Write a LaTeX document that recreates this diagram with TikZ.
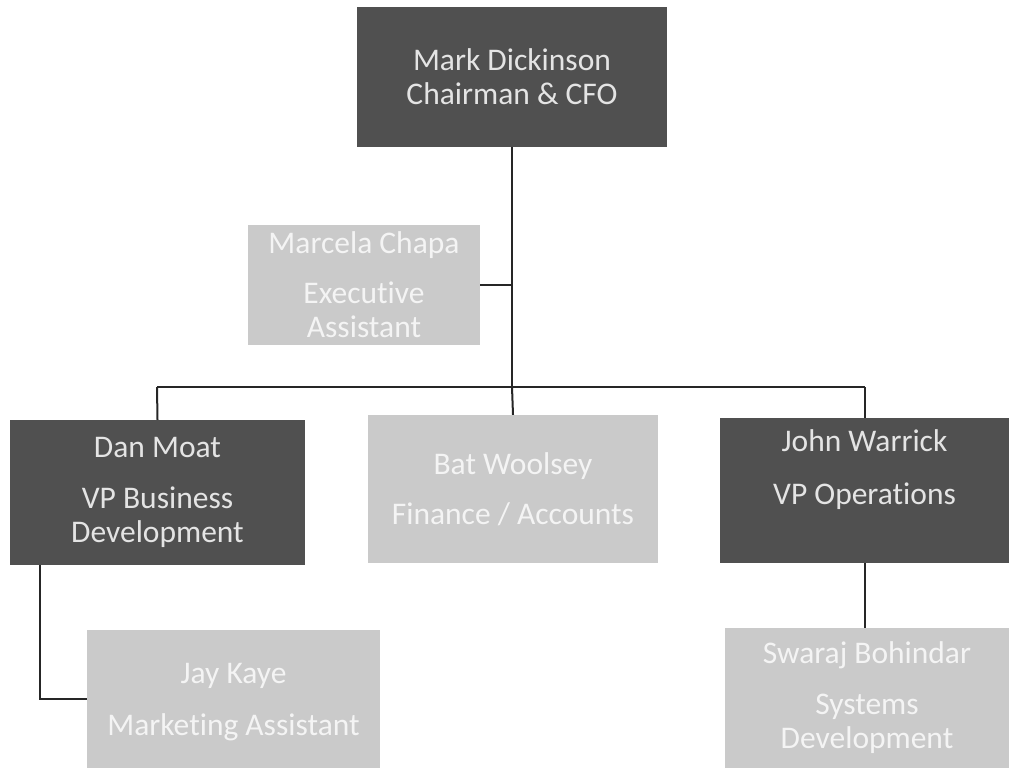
\documentclass[tikz,border=0pt]{standalone}
\usepackage{fontspec}
\setmainfont[Ligatures=NoCommon]{Carlito}
\usepackage{tikz}

\definecolor{boxdark}{RGB}{80,80,80}
\definecolor{boxlight}{RGB}{202,202,202}
\definecolor{txtdark}{RGB}{228,228,228}
\definecolor{txtlight}{RGB}{244,244,244}

\begin{document}
\begin{tikzpicture}[x=1pt, y=-1pt,
	darkbox/.style = {fill = boxdark, text = txtdark, align = center, inner sep = 0pt,
		font = \fontsize{31.5}{34}\selectfont},
	lightbox/.style = {fill = boxlight, text = txtlight, align = center, inner sep = 0pt,
		font = \fontsize{31.5}{34}\selectfont},
	link/.style = {line width = 2pt, draw = black!85}]

\useasboundingbox (0,0) rectangle (1009,771);

\node[darkbox, minimum width = 310, minimum height = 140] (mark) at (512,77)
	{Mark Dickinson\\Chairman \& CFO};
\node[lightbox, minimum width = 232, minimum height = 120] (marcela) at (364,285)
	{Marcela Chapa\\[16pt]Executive\\Assistant};

\node[darkbox, minimum width = 295, minimum height = 145] (dan) at (157.5,492.5)
	{Dan Moat\\[17pt]VP Business\\Development};
\node[lightbox, minimum width = 290, minimum height = 148] (bat) at (513,489)
	{Bat Woolsey\\[16pt]Finance / Accounts};
\node[darkbox, minimum width = 289, minimum height = 145] (john) at (864.5,490.5)
	{John Warrick\\[19pt]VP Operations\\[13pt]\mbox{}};

\node[lightbox, minimum width = 293, minimum height = 138] (jay) at (233.5,699)
	{\mbox{}\\[-8pt]Jay Kaye\\[18pt]Marketing Assistant};
\node[lightbox, minimum width = 284, minimum height = 140] (swaraj) at (867,698)
	{Swaraj Bohindar\\[17pt]Systems\\Development};

% tree lines
\coordinate (busmid) at (512,387);
\coordinate (busleft) at (157,387);
\coordinate (busright) at (865,387);

\draw[link] (mark.south) -- (busmid);
\draw[link] (marcela.east) -- (marcela.east -| busmid);
\draw[link] (busleft) -- (busright);
\draw[link] (busleft) -- (dan.north);
\draw[link] (busmid) -- (bat.north);
\draw[link] (busright) -- (busright |- john.north);

\draw[link] (dan.south west) ++(30,0) |- (jay.west);
\draw[link] (john.south) -- (john.south |- swaraj.north);
\end{tikzpicture}
\end{document}
